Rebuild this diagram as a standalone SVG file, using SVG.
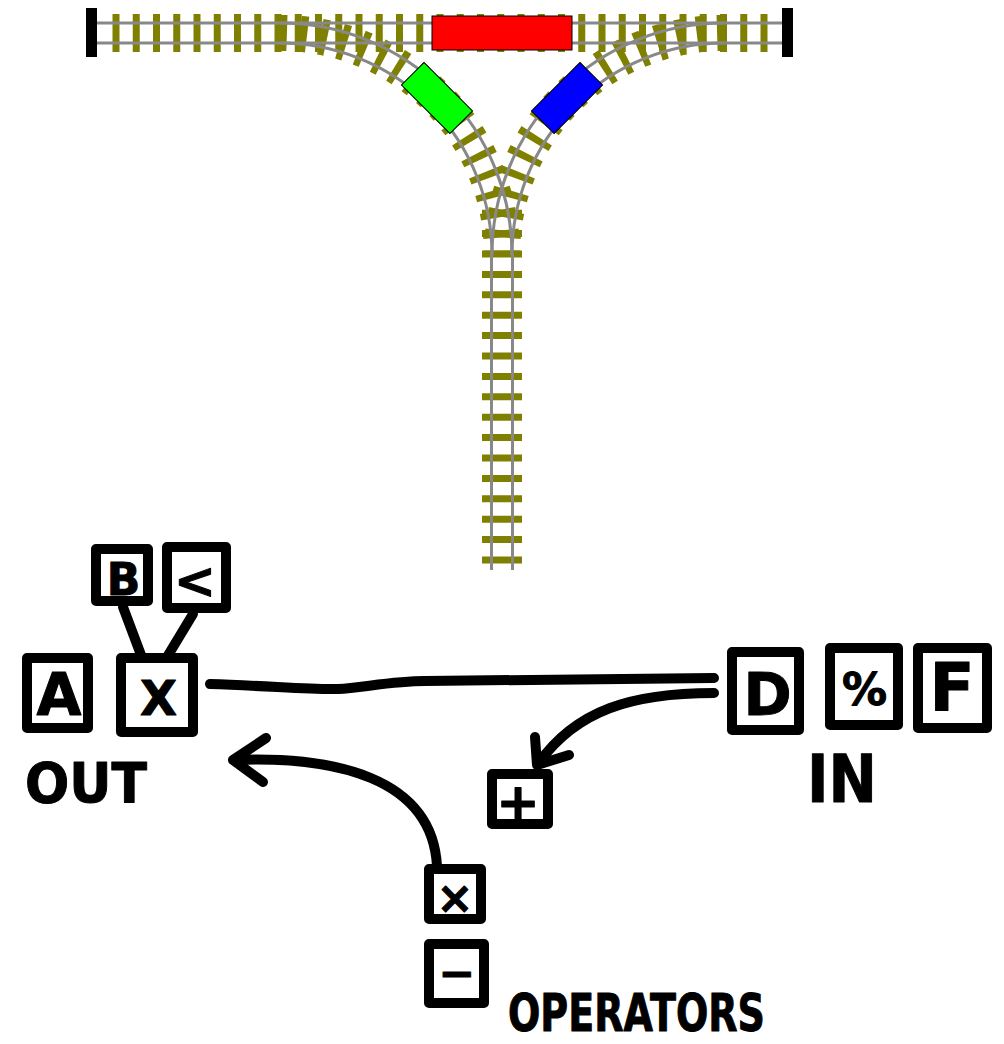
<svg xmlns="http://www.w3.org/2000/svg" width="1004" height="1044" viewBox="0 0 1004 1044">
<style>
.tie{fill:none;stroke:#808000;stroke-width:38;stroke-dasharray:7 13.25}
.rail{fill:none;stroke:#888;stroke-width:3}
.car{stroke:#000;stroke-width:1}
.box{fill:#fff;stroke:#000;stroke-width:10;stroke-linejoin:round}
.ln{fill:none;stroke:#000;stroke-width:10;stroke-linecap:round;stroke-linejoin:round}
.g{font-family:"DejaVu Sans",sans-serif;font-weight:bold;fill:#000;stroke:#000;stroke-width:1;stroke-linejoin:round;text-anchor:middle}
.lab{font-family:"DejaVu Sans",sans-serif;font-weight:bold;fill:#000;stroke:#000;stroke-width:1;stroke-linejoin:round}
</style>
<rect width="1004" height="1044" fill="#fff"/>
<g id="track">
  <path class="tie" d="M112.5 33 L767.5 33"/>
  <path class="tie" d="M502 563.5 L502 209.8" style="stroke-width:40;stroke-dasharray:7 13.4"/>
  <path class="tie" d="M280 33 A222 222 0 0 1 502 255" style="stroke-width:36"/>
  <path class="tie" d="M724 33 A222 222 0 0 0 502 255" style="stroke-width:36"/>
  <path class="rail" d="M95 23 L782 23 M95 43 L782 43"/>
  <path class="rail" d="M491.5 255 L491.5 570 M512.5 255 L512.5 570"/>
  <path class="rail" d="M280 23 A232 232 0 0 1 512 255 M280 43 A212 212 0 0 1 492 255"/>
  <path class="rail" d="M724 23 A232 232 0 0 0 492 255 M724 43 A212 212 0 0 0 512 255"/>
  <rect x="86" y="8" width="11" height="49" fill="#000"/>
  <rect x="782" y="8" width="11" height="49" fill="#000"/>
</g>
<g id="car-red"><rect class="car" x="432" y="16" width="140" height="34" fill="#f00"/></g>
<g id="car-green"><rect class="car" x="-34.3" y="-16" width="68.6" height="32" fill="#0f0" transform="translate(437 98) rotate(45)"/></g>
<g id="car-blue"><rect class="car" x="-34.3" y="-16" width="68.6" height="32" fill="#00f" transform="translate(567 98) rotate(-45)"/></g>
<g id="connectors">
  <path class="ln" d="M123 607 L141 655"/>
  <path class="ln" d="M193 614 L167 657"/>
  <path class="ln" d="M210 684 C270 686 315 690 338 689 S392 681 425 681 L714 678"/>
  <path class="ln" d="M714 693 C632 693 576 710 538 764 M535 737 L537 765 L569 755"/>
  <path class="ln" d="M437 866 C432 776 332 756 233 760 M266 738 L233 760 L263 782"/>
</g>
<g id="node-B"><rect class="box" x="96" y="549" width="52" height="52"/><text class="g" x="123.5" y="595" font-size="44">B</text></g>
<g id="node-lt"><rect class="box" x="167" y="547" width="59" height="61"/><text class="g" x="195" y="598" font-size="50">&lt;</text></g>
<g id="node-A"><rect class="box" x="27" y="658" width="61" height="70"/><text class="g" x="59" y="715" font-size="58">A</text></g>
<g id="node-X"><rect class="box" x="121" y="658" width="72" height="74"/><text class="g" x="158.5" y="715" font-size="48">X</text></g>
<g id="node-D"><rect class="box" x="732" y="652" width="67" height="78"/><text class="g" x="767.5" y="715" font-size="58">D</text></g>
<g id="node-pct"><rect class="box" x="830" y="648" width="68" height="77"/><text class="g" x="864.5" y="705" font-size="45">%</text></g>
<g id="node-F"><rect class="box" x="918" y="648" width="69" height="80"/><text class="g" x="952" y="710" font-size="66">F</text></g>
<g id="node-plus"><rect class="box" x="492" y="774" width="56" height="50"/><text class="g" x="518" y="820" font-size="52">+</text></g>
<g id="node-times"><rect class="box" x="429" y="869" width="52" height="50"/><text class="g" x="455" y="913" font-size="44">×</text></g>
<g id="node-minus"><rect class="box" x="429" y="944" width="55" height="59"/><text class="g" x="457" y="988" font-size="44">−</text></g>
<g id="labels">
  <text class="lab" x="25" y="802" font-size="56" textLength="122" lengthAdjust="spacingAndGlyphs">OUT</text>
  <text class="lab" x="807" y="802" font-size="66" textLength="70" lengthAdjust="spacingAndGlyphs">IN</text>
  <text class="lab" x="508" y="1031" font-size="52" textLength="257" lengthAdjust="spacingAndGlyphs">OPERATORS</text>
</g>
</svg>
